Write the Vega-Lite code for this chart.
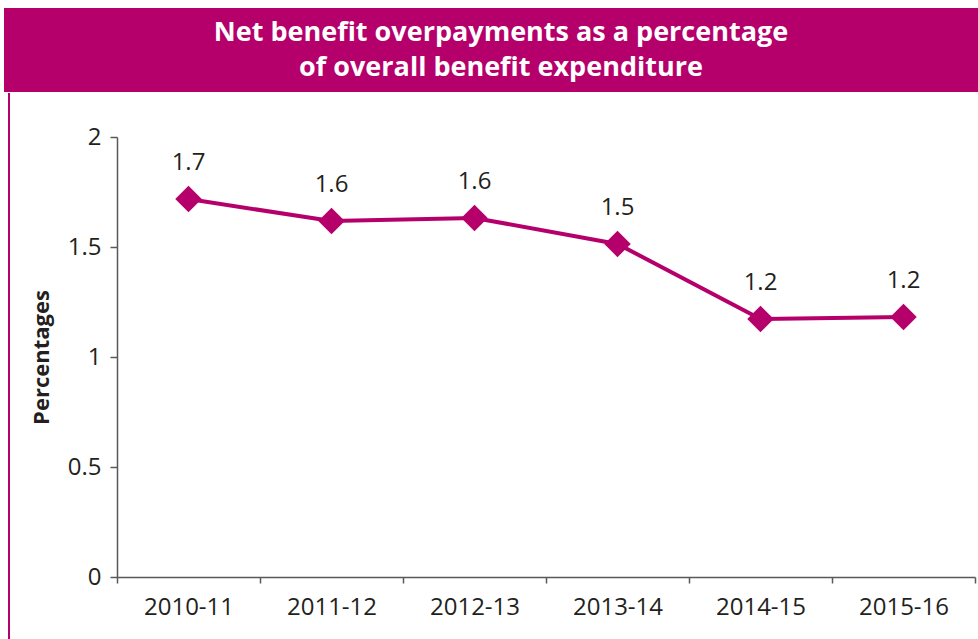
{
  "$schema": "https://vega.github.io/schema/vega-lite/v6.json",
  "padding": {"left": 4, "top": 8, "right": 0, "bottom": 0},
  "background": "white",
  "config": {
    "font": "Open Sans",
    "view": {"stroke": null},
    "axis": {
      "domainColor": "#595959",
      "tickColor": "#595959",
      "domainWidth": 1.5,
      "tickWidth": 1.5,
      "labelColor": "#231f20",
      "labelFontSize": 24,
      "labelFont": "Open Sans",
      "titleColor": "#231f20",
      "grid": false
    }
  },
  "spacing": 0,
  "vconcat": [
    {
      "width": 974,
      "height": 84,
      "view": {"fill": "#b5006b", "stroke": null},
      "data": {"values": [{"t": "title"}]},
      "mark": {"type": "text", "color": "white", "fontSize": 27, "fontWeight": "bold", "lineHeight": 35, "baseline": "middle", "align": "center", "dy": -17, "dx": 10},
      "encoding": {"text": {"value": ["Net benefit overpayments as a percentage", "of overall benefit expenditure"]}}
    },
    {
      "spacing": 20,
      "hconcat": [
        {
          "spacing": 0,
          "hconcat": [
            {"width": 4, "height": 503, "data": {"values": [{"t": ""}]}, "mark": "text", "encoding": {"text": {"field": "t"}}},
            {
              "width": 2, "height": 503,
              "view": {"fill": "#b5006b", "stroke": null},
              "data": {"values": [{"t": "", "p": 0}]},
              "mark": "text",
              "encoding": {
                "text": {"field": "t"},
                "x": {"field": "p", "type": "quantitative", "scale": {"domain": [-1, 1]},
                      "axis": {"orient": "top", "values": [0], "domain": false, "labels": false, "title": null, "tickSize": 44, "tickWidth": 2, "tickColor": "#b5006b", "translate": 0}}
              }
            }
          ]
        },
        {
          "width": 858,
          "height": 440,
          "title": {"text": " ", "fontSize": 20, "offset": 13},
          "data": {"values": [
            {"year": "2010-11", "value": 1.718, "label": "1.7"},
            {"year": "2011-12", "value": 1.618, "label": "1.6"},
            {"year": "2012-13", "value": 1.632, "label": "1.6"},
            {"year": "2013-14", "value": 1.514, "label": "1.5"},
            {"year": "2014-15", "value": 1.173, "label": "1.2"},
            {"year": "2015-16", "value": 1.182, "label": "1.2"}
          ]},
          "encoding": {
            "x": {
              "field": "year", "type": "ordinal", "sort": null, "bandPosition": 0.5,
              "scale": {"type": "band", "paddingInner": 0, "paddingOuter": 0},
              "axis": {"title": null, "labelAngle": 0, "tickBand": "extent", "tickSize": 6, "labelPadding": 12}
            },
            "y": {
              "field": "value", "type": "quantitative",
              "scale": {"domain": [0, 2]},
              "axis": {"values": [0, 0.5, 1, 1.5, 2], "format": "~g", "title": "Percentages", "titleFontSize": 22, "titleFontWeight": "bold", "titlePadding": 14, "tickSize": 7, "labelPadding": 9}
            }
          },
          "layer": [
            {"mark": {"type": "line", "color": "#b5006b", "strokeWidth": 4}},
            {"mark": {"type": "point", "shape": "diamond", "filled": true, "size": 700, "color": "#b5006b", "opacity": 1}},
            {"mark": {"type": "text", "dy": -36, "fontSize": 24, "color": "#231f20"}, "encoding": {"text": {"field": "label"}}}
          ]
        }
      ]
    }
  ]
}
